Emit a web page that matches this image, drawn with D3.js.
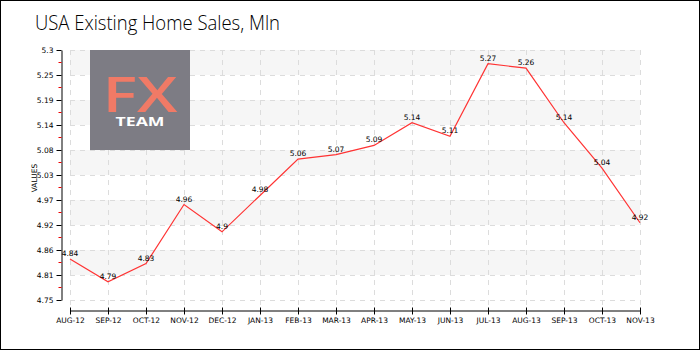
<!DOCTYPE html>
<html><head><meta charset="utf-8">
<script src="https://cdn.jsdelivr.net/npm/d3@7"></script>
<style>body{margin:0;background:#fff}svg{display:block}</style>
</head><body>
<script>
const categories = ["AUG-12","SEP-12","OCT-12","NOV-12","DEC-12","JAN-13","FEB-13","MAR-13","APR-13","MAY-13","JUN-13","JUL-13","AUG-13","SEP-13","OCT-13","NOV-13"];
const values = [4.84,4.79,4.83,4.96,4.9,4.98,5.06,5.07,5.09,5.14,5.11,5.27,5.26,5.14,5.04,4.92];
const yTicks = [4.75,4.805,4.86,4.915,4.97,5.025,5.08,5.135,5.19,5.245,5.3];
const yTickLabels = ["4.75","4.81","4.86","4.92","4.97","5.03","5.08","5.14","5.19","5.25","5.3"];
const title = "USA Existing Home Sales, Mln";

const W=700,H=350;
const svg=d3.select("body").append("svg").attr("width",W).attr("height",H);
svg.append("rect").attr("x",0.5).attr("y",0.5).attr("width",W-1).attr("height",H-1).attr("fill","#fff").attr("stroke","#000");

const x=d3.scalePoint().domain(categories).range([70,640]);
const y=d3.scaleLinear().domain([4.75,5.3]).range([300,50]);
const font="'DejaVu Sans', sans-serif";

// bands
for(let i=0;i<yTicks.length-1;i++){
  if(i%2===1){
    svg.append("rect").attr("x",70).attr("width",570)
      .attr("y",y(yTicks[i+1])).attr("height",y(yTicks[i])-y(yTicks[i+1]))
      .attr("fill","#f6f6f6");
  }
}
// grid
svg.append("g").selectAll("line").data(yTicks).join("line")
  .attr("x1",70).attr("x2",640).attr("y1",d=>y(d)+0.5).attr("y2",d=>y(d)+0.5)
  .attr("stroke","#dcdcdc").attr("stroke-dasharray","5,5");
svg.append("g").selectAll("line").data(categories).join("line")
  .attr("x1",d=>x(d)+0.5).attr("x2",d=>x(d)+0.5).attr("y1",50).attr("y2",305)
  .attr("stroke","#dcdcdc").attr("stroke-dasharray","5,5");

// logo
svg.append("rect").attr("x",90).attr("y",50).attr("width",100).attr("height",100).attr("fill","#7d7c84");
svg.append("text").attr("x",140).attr("y",112).attr("text-anchor","middle")
  .attr("font-family","'Open Sans', sans-serif").attr("font-weight",600).attr("font-size",48)
  .attr("textLength",75).attr("lengthAdjust","spacingAndGlyphs").attr("fill","#f07a66").text("FX");
svg.append("text").attr("x",140).attr("y",126).attr("text-anchor","middle")
  .attr("font-family","'Open Sans', sans-serif").attr("font-weight",700).attr("font-size",12.5)
  .attr("textLength",49).attr("lengthAdjust","spacingAndGlyphs").attr("fill","#fff").text("TEAM");

// y axis
const ya=svg.append("g").attr("transform","translate(61.5,0)")
  .call(d3.axisLeft(y).tickValues(yTicks).tickFormat((d,i)=>yTickLabels[i]).tickSize(5).tickSizeOuter(0).tickPadding(3));
ya.select(".domain").attr("stroke","#000");
ya.selectAll("text").attr("font-family",font).attr("font-size",7.5).attr("fill","#000");
const minor=yTicks.slice(0,-1).map((d,i)=>(d+yTicks[i+1])/2);
ya.append("g").selectAll("line").data(minor).join("line")
  .attr("x1",-3).attr("x2",0).attr("y1",d=>y(d)).attr("y2",d=>y(d)).attr("stroke","#e00");

// x axis
const xa=svg.append("g").attr("transform","translate(0,310.5)")
  .call(d3.axisBottom(x).tickSize(4).tickSizeOuter(0).tickPadding(3));
xa.select(".domain").attr("stroke","#000");
xa.selectAll(".tick line").attr("y1",-3);
xa.selectAll("text").attr("font-family",font).attr("font-size",7.5).attr("fill","#000");

// axis title
svg.append("text").attr("transform","translate(37,178) rotate(-90)").attr("text-anchor","middle")
  .attr("font-family",font).attr("font-size",7.5).attr("fill","#000").text("VALUES");

// line
const line=d3.line().x((d,i)=>x(categories[i])).y(d=>y(d));
svg.append("path").datum(values).attr("d",line).attr("fill","none").attr("stroke","#ff3333").attr("stroke-width",1.2);

// labels
svg.append("g").selectAll("text").data(values).join("text")
  .attr("x",(d,i)=>x(categories[i])).attr("y",d=>y(d)-3).attr("text-anchor","middle")
  .attr("font-family",font).attr("font-size",7.5).attr("fill","#000").text(d=>d);

// title
svg.append("text").attr("x",35).attr("y",30).attr("font-family","'Open Sans', sans-serif").attr("font-weight",300)
  .attr("font-size",21).attr("textLength",245).attr("lengthAdjust","spacingAndGlyphs").attr("fill","#000").text(title);
</script>
</body></html>
